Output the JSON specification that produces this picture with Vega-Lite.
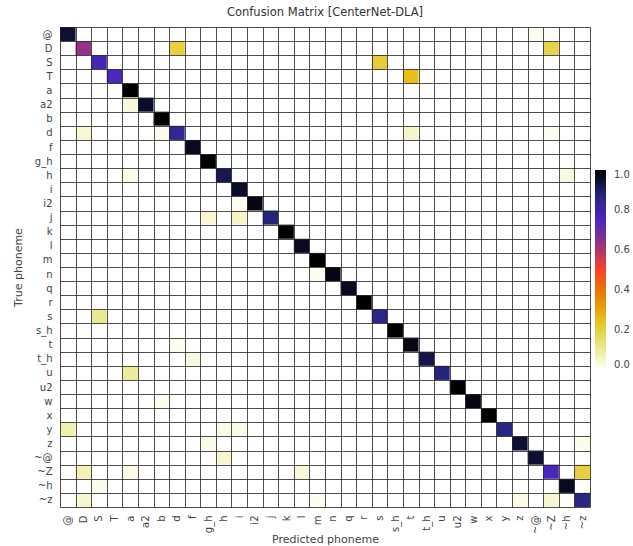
{
  "$schema": "https://vega.github.io/schema/vega-lite/v6.json",
  "width": 530,
  "height": 480,
  "autosize": {"type": "none"},
  "padding": {"left": 60, "top": 27, "right": 43, "bottom": 39},
  "background": "white",
  "config": {
    "font": "DejaVu Sans",
    "view": {"stroke": null}
  },
  "title": {"text": "Confusion Matrix [CenterNet-DLA]", "fontSize": 11.5, "fontWeight": "normal", "color": "#333", "offset": 4},
  "data": {
    "values": [
      {"t": "@", "p": "@", "v": 0.95}, {"t": "@", "p": "~@", "v": 0.015},
      {"t": "D", "p": "D", "v": 0.63}, {"t": "D", "p": "d", "v": 0.2}, {"t": "D", "p": "~Z", "v": 0.19},
      {"t": "S", "p": "S", "v": 0.77}, {"t": "S", "p": "s", "v": 0.21},
      {"t": "T", "p": "T", "v": 0.76}, {"t": "T", "p": "t", "v": 0.25},
      {"t": "a", "p": "a", "v": 1.0},
      {"t": "a2", "p": "a2", "v": 0.96}, {"t": "a2", "p": "a", "v": 0.035},
      {"t": "b", "p": "b", "v": 1.0},
      {"t": "d", "p": "d", "v": 0.84}, {"t": "d", "p": "D", "v": 0.04}, {"t": "d", "p": "b", "v": 0.02}, {"t": "d", "p": "t", "v": 0.05}, {"t": "d", "p": "~Z", "v": 0.015},
      {"t": "f", "p": "f", "v": 0.97},
      {"t": "g_h", "p": "g_h", "v": 1.0},
      {"t": "h", "p": "h", "v": 0.92}, {"t": "h", "p": "a", "v": 0.02}, {"t": "h", "p": "~h", "v": 0.03},
      {"t": "i", "p": "i", "v": 0.96},
      {"t": "i2", "p": "i2", "v": 0.98}, {"t": "i2", "p": "i", "v": 0.015},
      {"t": "j", "p": "j", "v": 0.88}, {"t": "j", "p": "g_h", "v": 0.04}, {"t": "j", "p": "i", "v": 0.05},
      {"t": "k", "p": "k", "v": 1.0},
      {"t": "l", "p": "l", "v": 0.97},
      {"t": "m", "p": "m", "v": 1.0},
      {"t": "n", "p": "n", "v": 0.98}, {"t": "n", "p": "m", "v": 0.015},
      {"t": "q", "p": "q", "v": 0.97},
      {"t": "r", "p": "r", "v": 1.0},
      {"t": "s", "p": "s", "v": 0.86}, {"t": "s", "p": "S", "v": 0.11},
      {"t": "s_h", "p": "s_h", "v": 1.0},
      {"t": "t", "p": "t", "v": 0.98}, {"t": "t", "p": "d", "v": 0.015},
      {"t": "t_h", "p": "t_h", "v": 0.93}, {"t": "t_h", "p": "f", "v": 0.03},
      {"t": "u", "p": "u", "v": 0.88}, {"t": "u", "p": "a", "v": 0.1},
      {"t": "u2", "p": "u2", "v": 1.0},
      {"t": "w", "p": "w", "v": 0.98}, {"t": "w", "p": "b", "v": 0.015},
      {"t": "x", "p": "x", "v": 1.0},
      {"t": "y", "p": "y", "v": 0.87}, {"t": "y", "p": "@", "v": 0.08}, {"t": "y", "p": "h", "v": 0.025}, {"t": "y", "p": "i", "v": 0.02},
      {"t": "z", "p": "z", "v": 0.95}, {"t": "z", "p": "g_h", "v": 0.025}, {"t": "z", "p": "~z", "v": 0.02},
      {"t": "~@", "p": "~@", "v": 0.95}, {"t": "~@", "p": "h", "v": 0.045},
      {"t": "~Z", "p": "~Z", "v": 0.76}, {"t": "~Z", "p": "D", "v": 0.07}, {"t": "~Z", "p": "a", "v": 0.025}, {"t": "~Z", "p": "l", "v": 0.035}, {"t": "~Z", "p": "~z", "v": 0.2},
      {"t": "~h", "p": "~h", "v": 0.97}, {"t": "~h", "p": "S", "v": 0.02},
      {"t": "~z", "p": "~z", "v": 0.87}, {"t": "~z", "p": "D", "v": 0.045}, {"t": "~z", "p": "m", "v": 0.015}, {"t": "~z", "p": "z", "v": 0.025}, {"t": "~z", "p": "~Z", "v": 0.045}
    ]
  },
  "mark": {"type": "rect"},
  "encoding": {
    "x": {
      "field": "p", "type": "nominal", "title": "Predicted phoneme",
      "scale": {"domain": ["@","D","S","T","a","a2","b","d","f","g_h","h","i","i2","j","k","l","m","n","q","r","s","s_h","t","t_h","u","u2","w","x","y","z","~@","~Z","~h","~z"], "paddingInner": 0, "paddingOuter": 0},
      "axis": {
        "grid": true, "tickBand": "extent", "gridColor": "#222", "gridWidth": 0.8, "gridOpacity": 1, "zindex": 1,
        "ticks": false, "domain": false, "labelAngle": -90, "labelPadding": 8, "labelFontSize": 10, "labelColor": "#444",
        "titleFontSize": 11, "titleFontWeight": "normal", "titleColor": "#444", "titleY": 26, "titleBaseline": "top"
      }
    },
    "y": {
      "field": "t", "type": "nominal", "title": "True phoneme",
      "scale": {"domain": ["@","D","S","T","a","a2","b","d","f","g_h","h","i","i2","j","k","l","m","n","q","r","s","s_h","t","t_h","u","u2","w","x","y","z","~@","~Z","~h","~z"], "paddingInner": 0, "paddingOuter": 0},
      "axis": {
        "grid": true, "tickBand": "extent", "gridColor": "#222", "gridWidth": 0.8, "gridOpacity": 1, "zindex": 1,
        "ticks": false, "domain": false, "labelPadding": 8, "labelFontSize": 10, "labelColor": "#444",
        "titleFontSize": 11, "titleFontWeight": "normal", "titleColor": "#444", "titleX": -42, "titleBaseline": "middle"
      }
    },
    "color": {
      "field": "v", "type": "quantitative",
      "scale": {"domain": [0, 1], "interpolate": "rgb", "range": ["#ffffff", "#e6e680", "#e6bf1a", "#e68000", "#ff4026", "#993380", "#4d26bf", "#262680", "#000000"]},
      "legend": {
        "title": null, "orient": "none", "legendX": 535, "legendY": 143, "direction": "vertical",
        "gradientLength": 200, "gradientThickness": 11, "gradientStrokeWidth": 0,
        "values": [0, 0.2, 0.4, 0.6, 0.8, 1.0], "format": ".1f",
        "labelFontSize": 10, "labelColor": "#444", "labelOffset": 8
      }
    }
  }
}
